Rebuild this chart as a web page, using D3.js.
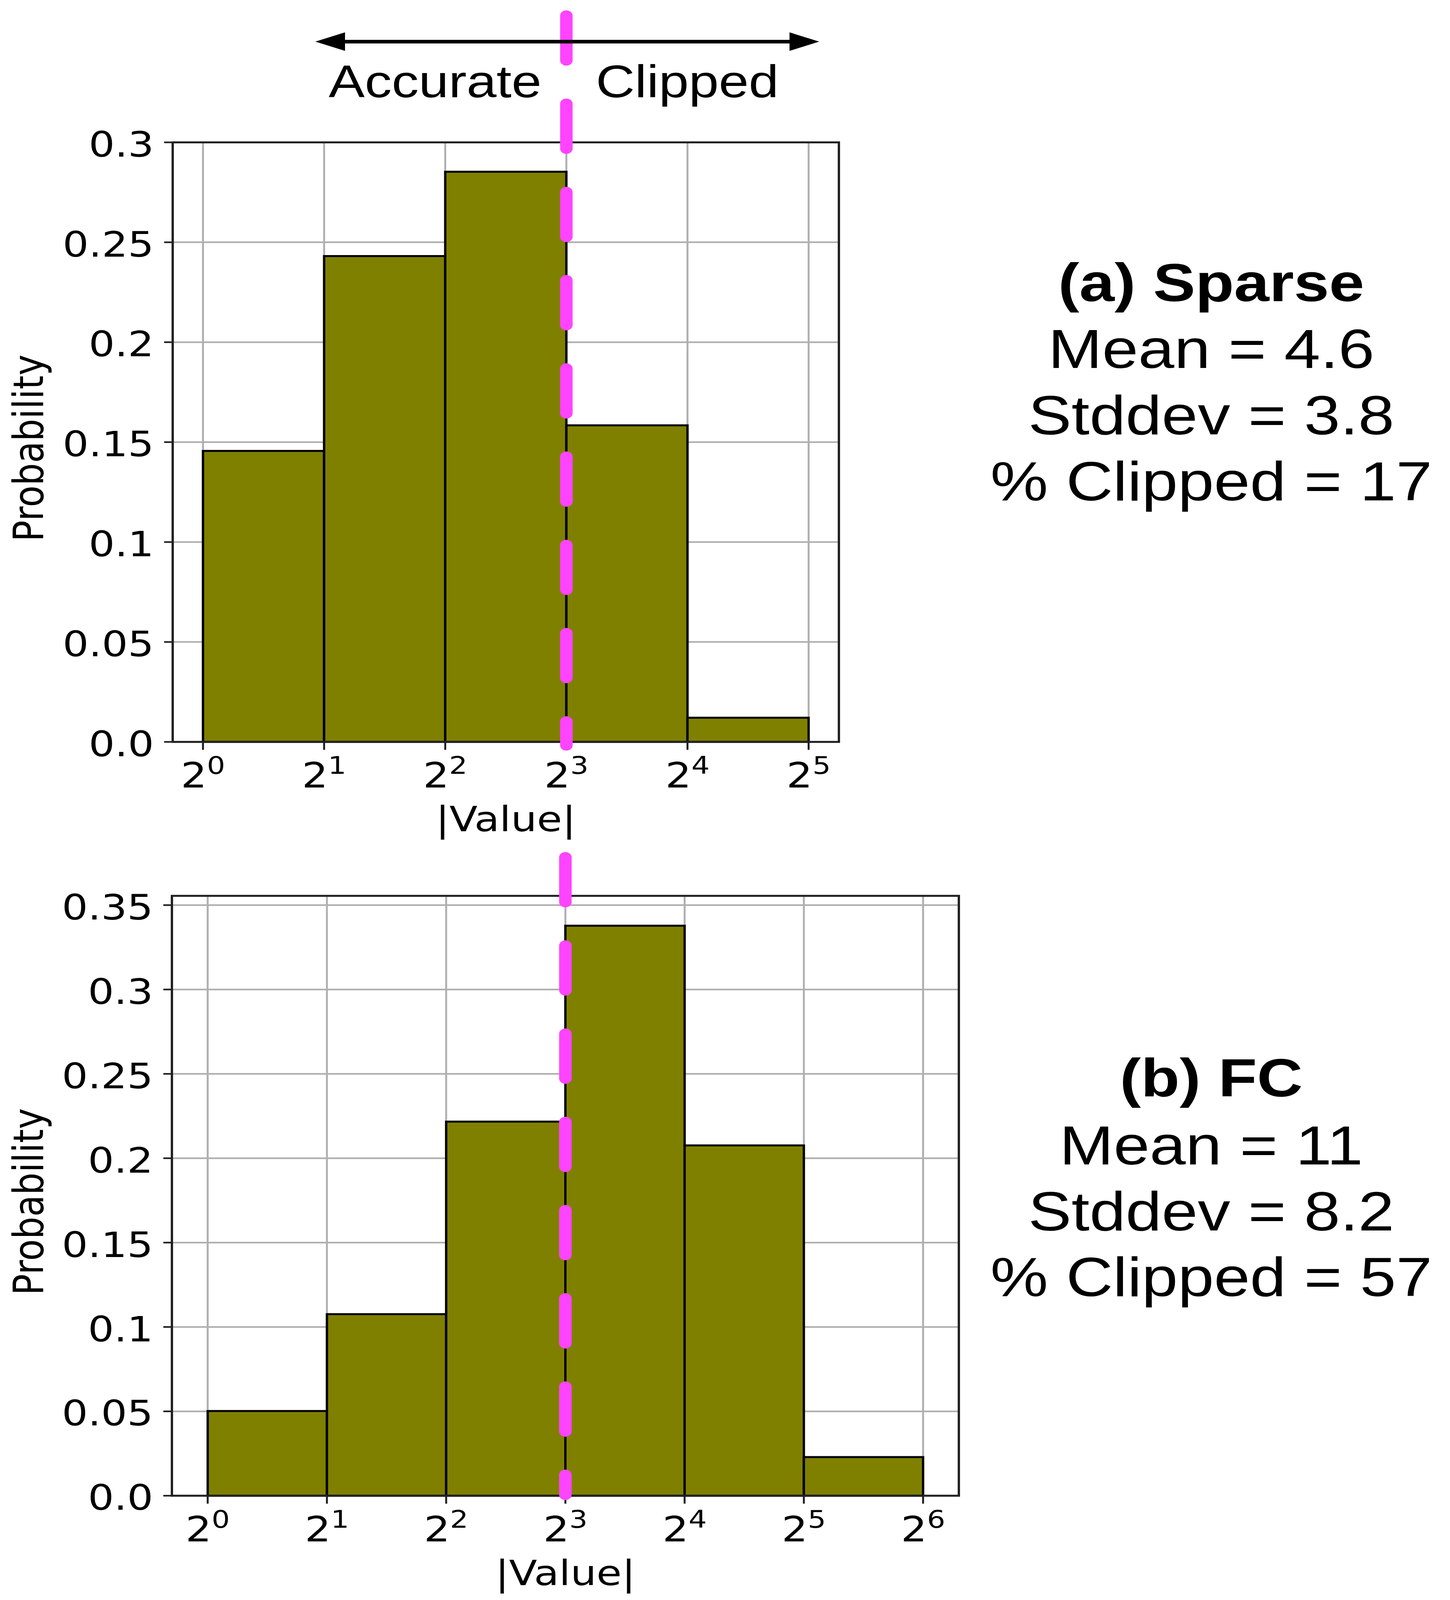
<!DOCTYPE html>
<html><head><meta charset="utf-8">
<script src="https://cdn.jsdelivr.net/npm/d3@7"></script>
<style>html,body{margin:0;padding:0;background:#fff;overflow:hidden;}svg{display:block;}</style>
</head><body>
<script>
// ---------------- data ----------------
const edgesA = [1, 2, 4, 8, 16, 32];
const probA = [0.1456, 0.2431, 0.2853, 0.1584, 0.0121];
const edgesB = [1, 2, 4, 8, 16, 32, 64];
const probB = [0.0502, 0.1076, 0.2217, 0.3378, 0.2076, 0.0229];
const xTickExpA = [0, 1, 2, 3, 4, 5];
const xTickExpB = [0, 1, 2, 3, 4, 5, 6];
const yTicksA = [0, 0.05, 0.1, 0.15, 0.2, 0.25, 0.3];
const yTickLabelsA = ["0.0", "0.05", "0.1", "0.15", "0.2", "0.25", "0.3"];
const yTicksB = [0, 0.05, 0.1, 0.15, 0.2, 0.25, 0.3, 0.35];
const yTickLabelsB = ["0.0", "0.05", "0.1", "0.15", "0.2", "0.25", "0.3", "0.35"];
const titleA = "(a) Sparse";
const statsA = ["Mean = 4.6", "Stddev = 3.8", "% Clipped = 17"];
const titleB = "(b) FC";
const statsB = ["Mean = 11", "Stddev = 8.2", "% Clipped = 57"];
const clipThreshold = 8;
const xLabel = "|Value|";
const yLabel = "Probability";
const rangeLabels = ["Accurate", "Clipped"];

// ---------------- layout / style ----------------
const W = 3711, H = 4833;
const panelA = {left: 442, right: 2147, top: 430, bottom: 2241,
  xDomain: [Math.pow(2, -0.25), Math.pow(2, 5.25)], yMax: 0.3,
  threshSpan: [-0.0017, 0.3634], titleY: 910, statsY: [1112, 1312, 1512]};
const panelB = {left: 440, right: 2454, top: 2706, bottom: 4518,
  xDomain: [Math.pow(2, -0.3), Math.pow(2, 6.3)], yMax: 0.3555,
  threshSpan: [0.0006, 0.3783], titleY: 3312, statsY: [3517, 3717, 3915]};
const statsX = 3100;
const tickFont = "'DejaVu Sans', sans-serif";
const textFont = "'Liberation Sans', Arial, Helvetica, sans-serif";
const tickSize = 105;
const barColor = "#808000";
const pink = "#ff44ff";
const gridColor = "#b0b0b0";

// the drawing is laid out on a 3711x4833 canvas and fitted to the browser's viewport
const vw = window.innerWidth || W, vh = window.innerHeight || H;
const svg = d3.select("body").append("svg")
  .attr("width", vw).attr("height", vh)
  .attr("viewBox", `0 0 ${W} ${H}`).attr("preserveAspectRatio", "none");
svg.append("rect").attr("width", W).attr("height", H).attr("fill", "#fff");

function drawPanel(p, edges, probs, xExp, yTicks, yLabels, title, stats) {
  const x = d3.scaleLog().base(2).domain(p.xDomain).range([p.left, p.right]);
  const y = d3.scaleLinear().domain([0, p.yMax]).range([p.bottom, p.top]);
  const g = svg.append("g");
  const xTicks = xExp.map(e => Math.pow(2, e));

  g.append("g").selectAll("line").data(yTicks).join("line")
    .attr("x1", p.left).attr("x2", p.right)
    .attr("y1", d => y(d)).attr("y2", d => y(d))
    .attr("stroke", gridColor).attr("stroke-width", 5);
  g.append("g").selectAll("line").data(xTicks).join("line")
    .attr("x1", d => x(d)).attr("x2", d => x(d))
    .attr("y1", p.top).attr("y2", p.bottom)
    .attr("stroke", gridColor).attr("stroke-width", 5);

  const bins = probs.map((v, i) => ({x0: edges[i], x1: edges[i + 1], v}));
  g.append("g").selectAll("rect").data(bins).join("rect")
    .attr("x", d => x(d.x0)).attr("width", d => x(d.x1) - x(d.x0))
    .attr("y", d => y(d.v)).attr("height", d => y(0) - y(d.v))
    .attr("fill", barColor).attr("stroke", "#000").attr("stroke-width", 6);

  g.append("rect").attr("x", p.left).attr("y", p.top)
    .attr("width", p.right - p.left).attr("height", p.bottom - p.top)
    .attr("fill", "none").attr("stroke", "#222").attr("stroke-width", 6);

  const yt = g.append("g").selectAll("g").data(yTicks).join("g")
    .attr("transform", d => `translate(${p.left},${y(d)})`);
  yt.append("line").attr("x1", -22).attr("x2", 0).attr("stroke", "#222").attr("stroke-width", 5);
  yt.append("text").attr("x", -48).attr("y", 43).attr("text-anchor", "end")
    .attr("font-family", tickFont).attr("font-size", tickSize).attr("fill", "#000")
    .text((d, i) => yLabels[i]);

  const xt = g.append("g").selectAll("g").data(xExp).join("g")
    .attr("transform", d => `translate(${x(Math.pow(2, d))},${p.bottom})`);
  xt.append("line").attr("y1", 0).attr("y2", 24).attr("stroke", "#222").attr("stroke-width", 5);
  const xtt = xt.append("text").attr("y", 138).attr("text-anchor", "middle")
    .attr("font-family", tickFont).attr("font-size", tickSize).attr("fill", "#000");
  xtt.append("tspan").text("2");
  xtt.append("tspan").attr("dy", -41).attr("font-size", tickSize * 0.7).text(d => String(d));

  g.append("text").attr("x", (p.left + p.right) / 2).attr("y", p.bottom + 270)
    .attr("text-anchor", "middle").attr("font-family", tickFont).attr("font-size", tickSize)
    .text(xLabel);
  g.append("text").attr("transform", `translate(110,${(p.top + p.bottom) / 2 + 18}) rotate(-90)`)
    .attr("text-anchor", "middle").attr("font-family", tickFont).attr("font-size", 107)
    .text(yLabel);

  const tx = x(clipThreshold);
  g.append("path")
    .attr("d", `M${tx},${y(p.threshSpan[1])}L${tx},${y(p.threshSpan[0])}`)
    .attr("stroke", pink).attr("stroke-width", 32).attr("stroke-linecap", "round")
    .attr("stroke-dasharray", "135 131.5").attr("fill", "none");

  g.append("text").attr("x", statsX).attr("y", p.titleY).attr("text-anchor", "middle")
    .attr("font-family", textFont).attr("font-weight", "bold").attr("font-size", 162).text(title);
  g.selectAll("text.stat").data(stats).join("text").attr("class", "stat")
    .attr("x", statsX).attr("y", (d, i) => p.statsY[i]).attr("text-anchor", "middle")
    .attr("font-family", textFont).attr("font-size", 166).text(d => d);

  return {x, y};
}

const sA = drawPanel(panelA, edgesA, probA, xTickExpA, yTicksA, yTickLabelsA, titleA, statsA);
drawPanel(panelB, edgesB, probB, xTickExpB, yTicksB, yTickLabelsB, titleB, statsB);

// range arrow and labels above the top panel, placed through the top panel's scales
const arrowSpan = [1.902, 34.0];
const arrowLevel = 0.3504;
const labelLevel = 0.3225;
const ax0 = sA.x(arrowSpan[0]), ax1 = sA.x(arrowSpan[1]), ay = sA.y(arrowLevel);
const headL = 76, headH = 28;
svg.append("line").attr("x1", ax0 + headL - 4).attr("x2", ax1 - headL + 4)
  .attr("y1", ay).attr("y2", ay).attr("stroke", "#000").attr("stroke-width", 11);
svg.append("path").attr("d", `M${ax0},${ay}L${ax0 + headL},${ay - headH}L${ax0 + headL},${ay + headH}Z`).attr("fill", "#000");
svg.append("path").attr("d", `M${ax1},${ay}L${ax1 - headL},${ay - headH}L${ax1 - headL},${ay + headH}Z`).attr("fill", "#000");
svg.append("text").attr("x", sA.x(6.94)).attr("y", sA.y(labelLevel)).attr("text-anchor", "end")
  .attr("font-family", textFont).attr("font-size", 138).text(rangeLabels[0]);
svg.append("text").attr("x", sA.x(9.47)).attr("y", sA.y(labelLevel)).attr("text-anchor", "start")
  .attr("font-family", textFont).attr("font-size", 138).text(rangeLabels[1]);
</script>
</body></html>
